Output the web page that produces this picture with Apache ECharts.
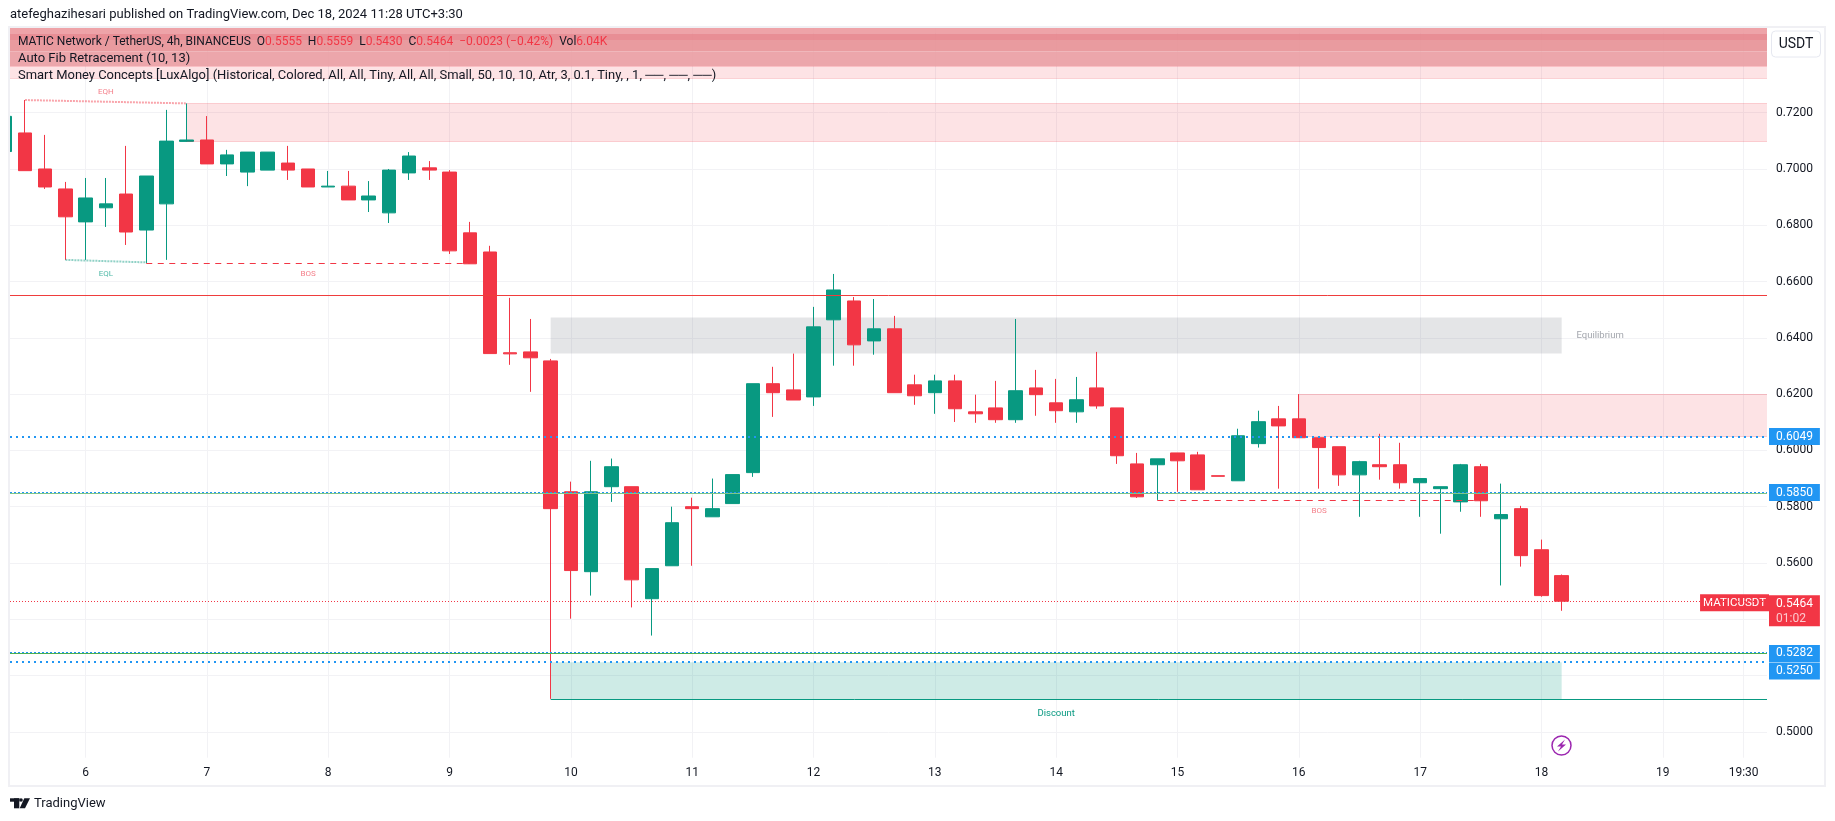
<!DOCTYPE html>
<html>
<head>
<meta charset="utf-8">
<style>html,body{margin:0;padding:0;background:#fff;}#c{width:1835px;height:821px;}</style>
<script src="https://cdn.jsdelivr.net/npm/echarts@6/dist/echarts.min.js"></script>
</head>
<body>
<div id="c"></div>
<script>
const opens = [.7062,.7128,.7000,.6929,.6812,.6862,.6911,.6783,.6876,.7098,.7103,.7018,.6989,.6996,.7021,.7000,.6936,.6939,.6890,.6844,.6986,.7004,.6989,.6773,.6705,.6347,.6350,.6318,.5853,.5569,.5871,.5871,.5473,.5590,.5800,.5764,.5811,.5921,.6237,.6215,.6190,.6464,.6531,.6389,.6432,.6233,.6205,.6247,.6137,.6151,.6109,.6222,.6169,.6137,.6222,.6151,.5952,.5949,.5991,.5984,.5910,.5892,.6024,.6112,.6112,.6045,.6013,.5913,.5949,.5949,.5885,.5864,.5817,.5942,.5757,.5793,.5647,.5555];
const highs = [.7187,.7245,.7121,.6954,.6968,.6968,.7082,.6975,.7210,.7233,.7188,.7068,.7060,.7060,.7082,.7000,.6993,.6993,.6957,.7000,.7060,.7028,.6996,.6812,.6727,.6542,.6467,.6325,.5889,.5963,.5971,.5871,.5580,.5800,.5832,.5900,.5914,.6237,.6297,.6344,.6510,.6627,.6545,.6538,.6478,.6269,.6269,.6269,.6198,.6247,.6467,.6286,.6254,.6261,.6350,.6151,.5991,.5970,.5991,.5995,.5910,.6077,.6141,.6158,.6200,.6045,.6013,.5963,.6059,.6027,.5900,.5871,.5952,.5952,.5882,.5803,.5683,.5559];
const lows = [.7062,.6994,.6929,.6677,.6677,.6794,.6730,.6666,.6677,.7096,.7018,.6975,.6939,.6996,.6961,.6936,.6936,.6890,.6847,.6808,.6961,.6961,.6698,.6663,.6344,.6304,.6208,.5117,.5402,.5484,.5817,.5442,.5342,.5590,.5590,.5764,.5811,.5906,.6119,.6179,.6158,.6301,.6301,.6340,.6205,.6162,.6130,.6101,.6098,.6098,.6098,.6123,.6098,.6098,.6148,.5952,.5831,.5824,.5853,.5860,.5908,.5892,.6010,.5864,.6045,.5864,.5874,.5764,.5896,.5864,.5764,.5704,.5782,.5764,.5520,.5587,.5480,.5430];
const closes = [.7187,.6994,.6936,.6830,.6897,.6876,.6776,.6975,.7099,.7103,.7018,.7050,.7060,.7060,.6996,.6936,.6939,.6890,.6904,.6996,.7046,.6996,.6709,.6663,.6344,.6343,.6329,.5793,.5573,.5853,.5942,.5540,.5580,.5743,.5793,.5793,.5914,.6237,.6205,.6179,.6439,.6570,.6375,.6432,.6205,.6194,.6247,.6148,.6130,.6109,.6212,.6198,.6141,.6180,.6158,.5981,.5835,.5970,.5963,.5860,.5908,.6052,.6102,.6087,.6045,.6010,.5913,.5960,.5942,.5885,.5900,.5871,.5949,.5821,.5772,.5626,.5484,.5464];

const priceTicks = [.50,.52,.54,.56,.58,.60,.62,.64,.66,.68,.70,.72];
const timeTickBars = [4,10,16,22,28,34,40,46,52,58,64,70,76,82,86];
const timeTickLabels = ['6','7','8','9','10','11','12','13','14','15','16','17','18','19','19:30'];

const UP = '#089981', DOWN = '#f23645', BLUE = '#2196f3', INK = '#131722';
const X_MIN = 0.261, X_MAX = 87.155, Y_MIN = 0.4908, Y_MAX = 0.7502;

// stacked premium zones behind the legend: [topPrice, bottomPrice, colour]
const legendBands = [
  [Y_MAX,.7482,'rgba(236,153,158,0.9)'],
  [.7482,.7458,'rgba(230,130,137,0.9)'],
  [.7458,.7417,'rgba(231,144,149,0.9)'],
  [.7417,.7366,'rgba(234,156,162,0.9)'],
  [.7366,.7322,'rgba(242,54,69,0.14)']
];
// supply / demand zones: [startBar, endBar, topPrice, bottomPrice]
const supplyZones = [[9,X_MAX,.7233,.7098],[64,X_MAX,.6200,.6049]];
const supplyEdges = [[X_MIN,.7322],[X_MIN,.7366],[9,.7233],[9,.7098],[64,.6200],[64,.6049]];
const equilibriumZone = [27,77,.6472,.6344];
const discountZone = [27,77,.5247,.5117];

const structureLabels = [
  [5,.7275,'EQH','#f4808b',8],[5,.6627,'EQL','#4fb9a7',8],[15,.6627,'BOS','#f4808b',8],[65,.5783,'BOS','#f4808b',8],
  [78.9,.6408,'Equilibrium','#a3a6ad',9.5],[52,.5066,'Discount',UP,9.5]];

const bars = opens.map((o,i)=>[i,o,closes[i],lows[i],highs[i]]);
const FONT = 'Roboto';

function hLine(p,color,width,type,label){
  const s = {coord:[X_MIN,p],lineStyle:{color,width,type,opacity:1}};
  const e = {coord:[X_MAX,p]};
  if(label){ s.label = label; e.label = label; } else { s.label={show:false}; e.label={show:false}; }
  return [s,e];
}
function seg(x1,p1,x2,p2,color,width,type){
  return [{coord:[x1,p1],lineStyle:{color,width,type,opacity:1},label:{show:false}},{coord:[x2,p2]}];
}
function tag(text,offsetY){
  return {show:true,position:'end',distance:2,formatter:text,color:'#fff',backgroundColor:BLUE,fontFamily:FONT,fontSize:12,
    padding:[4,7,1,7],offset:[0,offsetY||0]};
}
const zoneArea = (z,color)=>[{coord:[z[0],z[2]],itemStyle:{color}},{coord:[z[1],z[3]]}];
const edgeColor = 'rgba(242,54,69,0.2)';

const option = {
  animation:false,
  backgroundColor:'#fff',
  textStyle:{fontFamily:FONT},
  grid:{left:10,right:68,top:27.7,bottom:63.3,containLabel:false},
  xAxis:{type:'value',min:X_MIN,max:X_MAX,
    axisLine:{show:false},
    axisTick:{show:false,customValues:timeTickBars},
    axisLabel:{customValues:timeTickBars,margin:9,color:INK,fontSize:12,fontFamily:FONT,
      formatter:v=>timeTickLabels[timeTickBars.indexOf(v)]||'',showMinLabel:true,showMaxLabel:true,hideOverlap:false},
    splitLine:{show:true,lineStyle:{color:'#f2f2f5',width:1}}},
  yAxis:{type:'value',position:'right',min:Y_MIN,max:Y_MAX,
    axisLine:{show:false},
    axisTick:{show:false,customValues:priceTicks},
    axisLabel:{customValues:priceTicks,margin:9,color:INK,fontSize:12,fontFamily:FONT,padding:[3,0,0,0],formatter:v=>v.toFixed(4)},
    splitLine:{show:true,lineStyle:{color:'#f2f2f5',width:1}}},
  series:[
    {type:'line',data:[],z:1,silent:true,symbol:'none',
      markArea:{silent:true,clip:true,label:{show:false},data:[
        ...legendBands.map(b=>zoneArea([X_MIN,X_MAX,b[0],b[1]],b[2])),
        ...supplyZones.map(z=>zoneArea(z,'rgba(242,54,69,0.14)')),
        zoneArea(equilibriumZone,'rgba(120,123,134,0.2)'),
        zoneArea(discountZone,'rgba(8,153,129,0.2)')
      ]},
      markLine:{silent:true,symbol:'none',precision:6,animation:false,data:[
        ...supplyEdges.map(e=>seg(e[0],e[1],X_MAX,e[1],edgeColor,1,'solid')),
        hLine(.6552,'#ef3d3d',1,'solid'),
        hLine(.5847,'#7fc587',1,'solid'),
        hLine(.5279,'#4caf50',1,'solid'),
        hLine(.6049,BLUE,2,[2,4],tag('0.6049')),
        hLine(.5850,BLUE,1,[2,2],tag('0.5850')),
        hLine(.5282,BLUE,1,[2,2],tag('0.5282',1)),
        hLine(.5250,BLUE,2,[2,4],tag('0.5250',9.5)),
        hLine(.5464,DOWN,1,[1,2],{show:true,position:'end',distance:2,
          formatter:'{a|0.5464}\n{b|01:02}',backgroundColor:DOWN,padding:[1,7,0,7],offset:[0,9.5],
          rich:{a:{color:'#fff',fontSize:12,fontFamily:FONT,lineHeight:15},b:{color:'#fcc9ce',fontSize:12,fontFamily:FONT,lineHeight:15}}}),
        seg(1,.7245,9,.7233,'rgba(242,54,69,0.45)',2,[2,1]),
        seg(3,.6677,7,.6668,'rgba(8,153,129,0.45)',2,[2,1]),
        seg(7,.6666,23,.6666,DOWN,1,[6,5.5]),
        seg(57,.5824,73,.5824,DOWN,1,[6,5.5]),
        seg(27,.5117,X_MAX,.5117,UP,1,'solid')
      ]}
    },
    {type:'candlestick',z:2,data:bars,barWidth:14,clip:true,silent:true,
      itemStyle:{color:UP,color0:DOWN,borderColor:UP,borderColor0:DOWN,borderWidth:1}},
    {type:'scatter',z:3,silent:true,symbolSize:0,clip:false,itemStyle:{opacity:1},
      data:structureLabels.map(l=>({value:[l[0],l[1]],label:{show:true,position:'inside',formatter:l[2],color:l[3],fontSize:l[4],fontFamily:FONT}}))},
    {type:'scatter',z:4,silent:true,symbolSize:0,clip:false,itemStyle:{opacity:1},
      data:[{value:[X_MAX,closes[closes.length-1]],label:{show:true,position:'left',distance:0,offset:[2,1.5],formatter:'MATICUSDT',color:'#fff',backgroundColor:DOWN,fontSize:11.5,fontFamily:FONT,padding:[3,3,2,3]}}]}
  ],
  graphic:[
    {type:'rect',silent:true,shape:{x:0,y:20,width:10,height:775},style:{fill:'#fff'},z:10},
    {type:'rect',silent:true,shape:{x:9,y:27,width:1816,height:759},style:{fill:'none',stroke:'#f0f0f4',lineWidth:2},z:11},
    {type:'text',x:10,y:14.7,style:{text:'atefeghazihesari published on TradingView.com, Dec 18, 2024 11:28 UTC+3:30',font:'13px Roboto',fill:INK,verticalAlign:'middle'}},
    {type:'text',x:18,y:41.7,z:20,style:{
      text:'MATIC Network / TetherUS, 4h, BINANCEUS  O{r|0.5555}  H{r|0.5559}  L{r|0.5430}  C{r|0.5464}  {r|−0.0023 (−0.42%)}  Vol{r|6.04K}',
      font:'12px Roboto',fill:INK,verticalAlign:'middle',rich:{r:{fill:DOWN,font:'12px Roboto'}}}},
    {type:'text',x:18,y:59,z:20,style:{text:'Auto Fib Retracement (10, 13)',font:'13px Roboto',fill:INK,verticalAlign:'middle'}},
    {type:'text',x:18,y:76,z:20,style:{text:'Smart Money Concepts [LuxAlgo] (Historical, Colored, All, All, Tiny, All, All, Small, 50, 10, 10, Atr, 3, 0.1, Tiny, , 1, ──, ──, ──)',font:'12.95px Roboto',fill:INK,verticalAlign:'middle'}},
    {type:'rect',shape:{x:1771.5,y:31,width:49,height:26,r:4},style:{fill:'#fff',stroke:'#e6e8f0',lineWidth:1},z:20},
    {type:'text',x:1796,y:44,z:21,style:{text:'USDT',font:'14px Roboto',fill:INK,align:'center',verticalAlign:'middle'}},
    {type:'circle',shape:{cx:1561.5,cy:745.5,r:9.5},style:{fill:'#fff',stroke:'#9c27b0',lineWidth:1.5},z:20},
    {type:'polygon',shape:{points:[[1565,739.5],[1557,746.5],[1561,746.5],[1558,751.5],[1566,744.5],[1562,744.5]]},style:{fill:'#9c27b0'},z:21},
    {type:'rect',shape:{x:10,y:798.3,width:9.3,height:3.4},style:{fill:INK}},
    {type:'rect',shape:{x:14,y:798.3,width:5.3,height:10},style:{fill:INK}},
    {type:'circle',shape:{cx:21,cy:800,r:1.8},style:{fill:INK}},
    {type:'polygon',shape:{points:[[24.3,798.3],[30,798.3],[25,808.3],[19.7,808.3]]},style:{fill:INK}},
    {type:'text',x:34,y:803.3,style:{text:'TradingView',font:'13px Roboto',fill:INK,verticalAlign:'middle'}}
  ]
};
const chart = echarts.init(document.getElementById('c'),null,{renderer:'canvas'});
chart.setOption(option);
</script>
</body>
</html>
